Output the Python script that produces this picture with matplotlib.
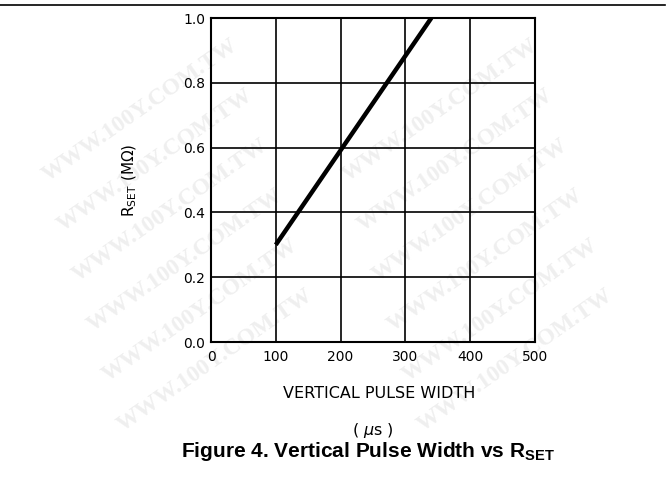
import matplotlib
matplotlib.use("Agg")
import matplotlib.pyplot as plt
from matplotlib.lines import Line2D

# Data
pulse_width_us = [100, 340]
rset_mohm = [0.30, 1.00]
x_ticks = [0, 100, 200, 300, 400, 500]
y_ticks = [0.0, 0.2, 0.4, 0.6, 0.8, 1.0]
y_tick_labels = ["0.0", "0.2", "0.4", "0.6", "0.8", "1.0"]
x_tick_labels = ["0", "100", "200", "300", "400", "500"]

plt.rcParams['mathtext.fontset'] = 'custom'
plt.rcParams['mathtext.rm'] = 'Liberation Sans'
plt.rcParams['mathtext.bf'] = 'Liberation Sans:bold'

W, H = 671, 482
fig = plt.figure(figsize=(W / 100, H / 100), dpi=100)
fig.patch.set_facecolor('white')

def fx(px):
    return px / W

def fy(py):
    return 1 - py / H

# Faint watermarks (kept inside the canvas)
wm_color = '#efefef'
for cx0 in (140, 440):
    for k in range(6):
        cx = cx0 + 15 * k
        cy = 110 + 50 * k
        fig.text(fx(cx), fy(cy), "WWW.100Y.COM.TW", color=wm_color,
                 fontsize=17, fontweight='bold', family='Liberation Serif',
                 rotation=35, ha='center', va='center', zorder=-5)

ax = fig.add_axes([fx(211), fy(342), (535 - 211) / W, (342 - 18) / H])
ax.set_zorder(1)
ax.set_facecolor('none')
ax.set_xlim(0, 500)
ax.set_ylim(0, 1.0)
ax.set_xticks(x_ticks)
ax.set_xticklabels(x_tick_labels)
ax.set_yticks(y_ticks)
ax.set_yticklabels(y_tick_labels)
ax.tick_params(axis='both', length=0, labelsize=10, colors='black')
ax.tick_params(axis='x', pad=6)
ax.tick_params(axis='y', pad=4)
ax.grid(True, color='black', linewidth=1.2)
ax.set_axisbelow(True)
for s in ax.spines.values():
    s.set_linewidth(1.5)
    s.set_color('black')

ax.plot(pulse_width_us, rset_mohm, color='black', linewidth=3.2,
        solid_capstyle='butt', zorder=3)

# Labels
fig.text(fx(379), fy(393), "VERTICAL PULSE WIDTH", ha='center', va='center',
         fontsize=11.5, family='DejaVu Sans', zorder=2)
fig.text(fx(373), fy(430), r"( $\mu$s )", ha='center', va='center',
         fontsize=11.5, family='DejaVu Sans', math_fontfamily='dejavusans', zorder=2)
fig.text(fx(130), fy(180), r"R$_{\mathrm{SET}}$ (M$\Omega$)", ha='center',
         va='center', rotation=90, fontsize=11, family='DejaVu Sans',
         math_fontfamily='dejavusans', zorder=2)
fig.text(fx(368), fy(457), r"Figure 4. Vertical Pulse Width vs R$_{\mathbf{SET}}$",
         ha='center', va='baseline', fontsize=15, fontweight='bold',
         family='Liberation Sans', math_fontfamily='custom', zorder=2)

fig.add_artist(Line2D([0, fx(665)], [fy(5), fy(5)], color='black',
                      linewidth=1.2, transform=fig.transFigure))

fig.savefig("out.png", dpi=100)
